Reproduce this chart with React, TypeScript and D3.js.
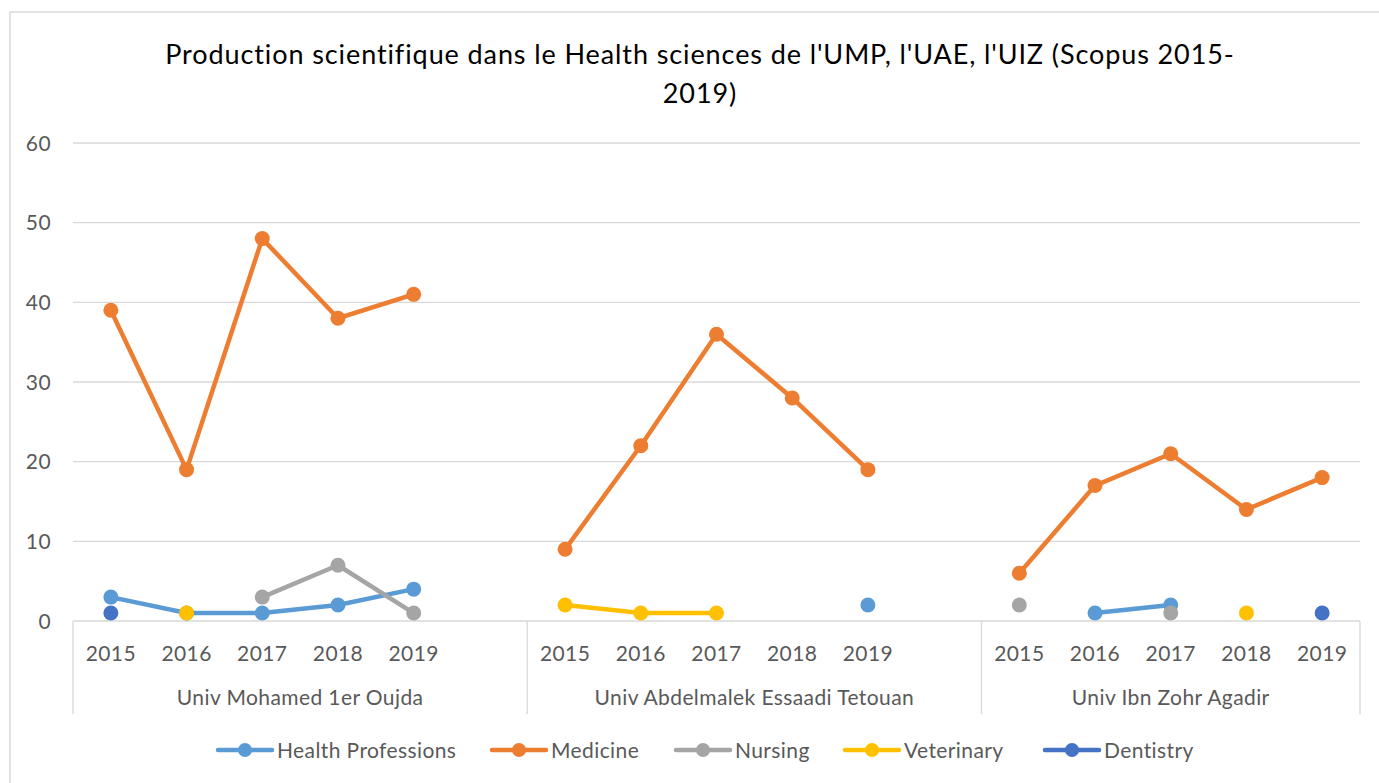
import React from "react";
import * as d3 from "d3";

const groups = ["Univ Mohamed 1er Oujda", "Univ Abdelmalek Essaadi Tetouan", "Univ Ibn Zohr Agadir"];
const years = ["2015", "2016", "2017", "2018", "2019"];
const yTicks = [0, 10, 20, 30, 40, 50, 60];

const seriesNames = ["Health Professions", "Medicine", "Nursing", "Veterinary", "Dentistry"];
const seriesColors = ["#5B9BD5", "#ED7D31", "#A5A5A5", "#FFC000", "#4472C4"];

// values per group (5 years each), null = no data
const healthProfessions = [3, 1, 1, 2, 4, null, null, null, null, 2, null, 1, 2, null, null];
const medicine = [39, 19, 48, 38, 41, 9, 22, 36, 28, 19, 6, 17, 21, 14, 18];
const nursing = [null, null, 3, 7, 1, null, null, null, null, null, 2, null, 1, null, null];
const veterinary = [null, 1, null, null, null, 2, 1, 1, null, null, null, null, null, 1, null];
const dentistry = [1, null, null, null, null, null, null, null, null, null, null, null, null, null, 1];

const seriesValues = [healthProfessions, medicine, nursing, veterinary, dentistry];

const legendX = [218, 492, 676, 845, 1045];

const W = 1379;
const H = 783;
const plotLeft = 73;
const plotRight = 1360;
const plotTop = 143;
const plotBottom = 621;
const FONT = "Lato, 'Open Sans', sans-serif";
const LBL = 21;
const LS = 0.4;

export default function App() {
  const cats: string[] = [];
  groups.forEach((g, gi) => {
    years.forEach((y) => cats.push(`${gi}-${y}`));
    if (gi < groups.length - 1) cats.push(`${gi}-blank`);
  });

  const x = d3.scaleBand<string>().domain(cats).range([plotLeft, plotRight]).padding(0);
  const bw = x.bandwidth();
  const cx = (k: string) => (x(k) as number) + bw / 2;
  const y = d3.scaleLinear().domain([0, 60]).range([plotBottom, plotTop]);

  const table = seriesValues.map((vals) => {
    const rows: { key: string; v: number | null }[] = [];
    groups.forEach((g, gi) => {
      years.forEach((yr, yi) => rows.push({ key: `${gi}-${yr}`, v: vals[gi * 5 + yi] }));
      if (gi < groups.length - 1) rows.push({ key: `${gi}-blank`, v: null });
    });
    return rows;
  });

  const line = d3
    .line<{ key: string; v: number | null }>()
    .defined((d) => d.v !== null)
    .x((d) => cx(d.key))
    .y((d) => y(d.v as number));

  const groupStarts = groups.map((g, gi) => x(`${gi}-2015`) as number);
  const groupEnds = groups.map((g, gi) => (x(`${gi}-2019`) as number) + bw + (gi < groups.length - 1 ? bw : 0));
  const seps = [...groupStarts, plotRight];

  return (
    <svg width={W} height={H} style={{ position: "absolute", left: 0, top: 0, background: "#fff" }} fontFamily={FONT}>
      <rect x={0} y={0} width={W} height={H} fill="#fff" />
      <rect x={10} y={12} width={W + 10} height={H + 10} fill="none" stroke="#D9D9D9" strokeWidth={1.5} />
      <text x={700} y={64} textAnchor="middle" fontSize={27} letterSpacing={0.9} fill="#000">
        Production scientifique dans le Health sciences de l'UMP, l'UAE, l'UIZ (Scopus 2015-
      </text>
      <text x={700} y={103} textAnchor="middle" fontSize={27} letterSpacing={0.9} fill="#000">
        2019)
      </text>
      {yTicks.map((t) => (
        <g key={t}>
          <line x1={plotLeft} x2={plotRight} y1={y(t)} y2={y(t)} stroke="#D9D9D9" strokeWidth={1.3} />
          <text x={51} y={y(t) + 7.5} textAnchor="end" fontSize={LBL} letterSpacing={LS} fill="#595959">
            {t}
          </text>
        </g>
      ))}
      {seps.map((s, i) => (
        <line key={i} x1={s} x2={s} y1={plotBottom} y2={714} stroke="#D9D9D9" strokeWidth={1.3} />
      ))}
      {groups.map((g, gi) => (
        <g key={g}>
          {years.map((yr) => (
            <text key={yr} x={cx(`${gi}-${yr}`)} y={661} textAnchor="middle" fontSize={LBL} letterSpacing={LS} fill="#595959">
              {yr}
            </text>
          ))}
          <text x={(groupStarts[gi] + groupEnds[gi]) / 2} y={705} textAnchor="middle" fontSize={LBL} letterSpacing={LS} fill="#595959">
            {g}
          </text>
        </g>
      ))}
      {table.map((rows, si) => (
        <g key={si}>
          <path d={line(rows) || ""} fill="none" stroke={seriesColors[si]} strokeWidth={4.5} strokeLinejoin="round" strokeLinecap="round" />
          {rows
            .filter((r) => r.v !== null)
            .map((r) => (
              <circle key={r.key} cx={cx(r.key)} cy={y(r.v as number)} r={7.5} fill={seriesColors[si]} />
            ))}
        </g>
      ))}
      {seriesNames.map((n, i) => (
        <g key={n}>
          <line x1={legendX[i]} x2={legendX[i] + 54} y1={750} y2={750} stroke={seriesColors[i]} strokeWidth={4.5} strokeLinecap="round" />
          <circle cx={legendX[i] + 27} cy={750} r={7} fill={seriesColors[i]} />
          <text x={legendX[i] + 59} y={757.5} fontSize={LBL} letterSpacing={LS} fill="#595959">
            {n}
          </text>
        </g>
      ))}
    </svg>
  );
}
